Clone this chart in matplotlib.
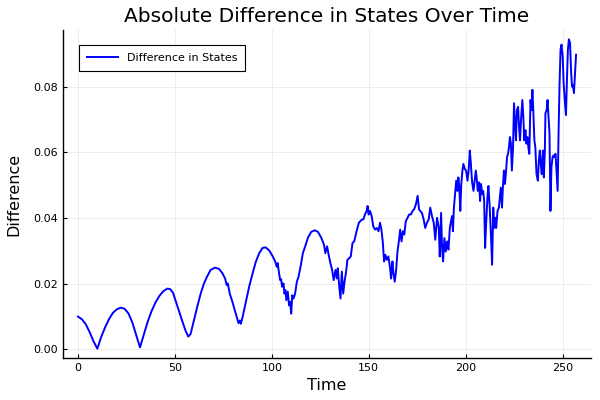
import matplotlib
matplotlib.use("Agg")
import matplotlib.pyplot as plt

# time points and |difference| values
time = [
    0, 2, 4, 6, 8, 10, 12, 14, 16, 18, 20, 22, 24, 26, 28, 30, 32, 34, 36, 38,
    40, 42, 44, 46, 47.5, 49, 50.3, 52, 53.7, 55.5, 56.9, 58.1, 59.8, 61.5,
    63.3, 65, 66.7, 68.4, 70.7, 72.8, 74.5, 75.9, 76.7, 77.3, 78.3, 79.7,
    80.9, 81.9, 82.8, 83.5, 84.0, 84.9, 86.6, 88.3, 90.1, 91.8, 93.5, 95.2,
    96.8, 98.7, 100.5, 101.7, 102.5, 103.0, 103.6, 104.3, 104.8, 105.3,
    106.0, 106.5, 107.0, 107.5, 108.2, 108.9, 109.4, 110.0, 110.5, 111.2,
    112.0, 112.9, 113.8, 114.8, 116.0, 117.2, 118.6, 120.3, 122.1, 123.8,
    125.5, 126.9, 127.6, 128.5, 129.3, 130.2, 131.1, 131.9, 132.8, 133.5,
    134.0, 134.7, 135.4, 136.1, 136.8, 137.5, 138.3, 139.0, 139.9, 140.7,
    141.6, 142.5, 143.7, 144.9, 146.3, 147.2, 148.0, 148.9, 149.4, 149.9,
    150.6, 151.5, 152.3, 153.2, 154.1, 155.0, 155.8, 156.5, 157.2, 157.9,
    158.6, 159.3, 160.1, 161.0, 161.5, 162.2, 162.7, 163.4, 164.1, 164.8,
    165.5, 166.2, 166.9, 167.6, 168.3, 169.1, 170.0, 170.8, 171.7, 172.6,
    173.4, 174.3, 175.2, 175.9, 176.5, 177.4, 178.3, 179.1, 180.0, 180.9,
    181.7, 182.6, 183.5, 184.3, 185.2, 186.1, 186.6, 187.3, 187.8, 188.3,
    189.0, 189.7, 190.4, 191.1, 191.8, 192.9, 193.4, 193.9, 194.6, 195.1,
    195.7, 196.2, 196.7, 197.2, 197.7, 198.3, 198.8, 199.5, 200.2, 200.9,
    201.5, 202.1, 202.6, 203.3, 204.0, 204.5, 205.2, 205.7, 206.2, 206.9,
    207.4, 207.9, 208.5, 209.0, 209.5, 210.0, 210.5, 211.2, 211.7, 212.3,
    213.0, 213.6, 214.2, 214.7, 215.2, 215.7, 216.4, 217.1, 217.6, 218.1,
    218.7, 219.2, 219.7, 220.2, 220.7, 221.3, 221.8, 222.3, 222.8, 223.3,
    223.8, 224.4, 224.9, 225.4, 225.9, 226.4, 227.0, 227.5, 228.0, 228.5,
    229.2, 229.7, 230.2, 230.8, 231.3, 231.8, 232.3, 232.8, 233.4, 233.9,
    234.4, 234.9, 235.4, 235.9, 236.5, 237.2, 237.7, 238.2, 238.7, 239.2,
    239.8, 240.3, 240.8, 241.1, 241.7, 242.2, 242.7, 243.2, 243.7, 244.2,
    244.8, 245.3, 245.8, 246.3, 246.8, 247.4, 247.9, 248.4, 248.9, 249.4,
    250.0, 250.5, 251.2, 251.7, 252.2, 252.7, 253.2, 253.8, 254.3, 254.8,
    255.3, 255.8, 256.4, 256.9,
]
diff = [
    0.0100, 0.0092, 0.0077, 0.0053, 0.0025, 0.0002, 0.0038, 0.0067, 0.0092,
    0.0111, 0.0122, 0.0127, 0.0124, 0.0110, 0.0083, 0.0045, 0.0006, 0.0045,
    0.0085, 0.0117, 0.0143, 0.0163, 0.0177, 0.0185, 0.0184, 0.0173, 0.0150,
    0.0119, 0.0088, 0.0057, 0.0039, 0.0047, 0.0088, 0.0129, 0.0170, 0.0201,
    0.0223, 0.0242, 0.0249, 0.0245, 0.0232, 0.0216, 0.0196, 0.0201, 0.0170,
    0.0144, 0.0119, 0.0098, 0.0080, 0.0088, 0.0078, 0.0098, 0.0144, 0.0191,
    0.0232, 0.0268, 0.0293, 0.0309, 0.0311, 0.0301, 0.0283, 0.0268, 0.0252,
    0.0263, 0.0237, 0.0211, 0.0214, 0.0191, 0.0201, 0.0170, 0.0181, 0.0150,
    0.0176, 0.0134, 0.0145, 0.0109, 0.0165, 0.0155, 0.0170, 0.0206, 0.0222,
    0.0252, 0.0293, 0.0314, 0.0340, 0.0358, 0.0363, 0.0358, 0.0340, 0.0319,
    0.0293, 0.0314, 0.0288, 0.0263, 0.0242, 0.0211, 0.0242, 0.0216, 0.0247,
    0.0196, 0.0155, 0.0237, 0.0170, 0.0206, 0.0237, 0.0273, 0.0278, 0.0283,
    0.0324, 0.0329, 0.0360, 0.0386, 0.0395, 0.0396, 0.0411, 0.0422, 0.0437,
    0.0411, 0.0422, 0.0406, 0.0375, 0.0365, 0.0370, 0.0360, 0.0386, 0.0365,
    0.0329, 0.0268, 0.0288, 0.0273, 0.0283, 0.0247, 0.0216, 0.0268, 0.0232,
    0.0206, 0.0242, 0.0298, 0.0329, 0.0365, 0.0329, 0.0360, 0.0350, 0.0391,
    0.0401, 0.0411, 0.0411, 0.0422, 0.0427, 0.0442, 0.0468, 0.0427, 0.0422,
    0.0416, 0.0396, 0.0370, 0.0386, 0.0396, 0.0432, 0.0406, 0.0386, 0.0334,
    0.0401, 0.0370, 0.0283, 0.0416, 0.0309, 0.0268, 0.0339, 0.0298, 0.0329,
    0.0304, 0.0370, 0.0406, 0.0360, 0.0432, 0.0478, 0.0514, 0.0483, 0.0524,
    0.0493, 0.0422, 0.0504, 0.0545, 0.0565, 0.0550, 0.0545, 0.0514, 0.0545,
    0.0606, 0.0570, 0.0509, 0.0483, 0.0509, 0.0545, 0.0519, 0.0483, 0.0509,
    0.0452, 0.0504, 0.0473, 0.0483, 0.0452, 0.0309, 0.0381, 0.0463, 0.0498,
    0.0442, 0.0350, 0.0258, 0.0432, 0.0370, 0.0401, 0.0370, 0.0422, 0.0432,
    0.0463, 0.0493, 0.0432, 0.0498, 0.0545, 0.0504, 0.0534, 0.0586, 0.0596,
    0.0616, 0.0647, 0.0627, 0.0545, 0.0616, 0.0750, 0.0688, 0.0637, 0.0729,
    0.0739, 0.0678, 0.0637, 0.0698, 0.0760, 0.0709, 0.0637, 0.0668, 0.0627,
    0.0647, 0.0616, 0.0596, 0.0760, 0.0729, 0.0791, 0.0719, 0.0637, 0.0616,
    0.0534, 0.0514, 0.0575, 0.0606, 0.0565, 0.0534, 0.0606, 0.0524, 0.0606,
    0.0719, 0.0729, 0.0760, 0.0709, 0.0658, 0.0422, 0.0555, 0.0586, 0.0591,
    0.0586, 0.0596, 0.0545, 0.0483, 0.0668, 0.0811, 0.0914, 0.0929, 0.0893,
    0.0811, 0.0750, 0.0714, 0.0822, 0.0914, 0.0945, 0.0934, 0.0852, 0.0801,
    0.0806, 0.0781, 0.0842, 0.0898,
]

x_ticks = [0, 50, 100, 150, 200, 250]
y_ticks = [0.00, 0.02, 0.04, 0.06, 0.08]

fig = plt.figure(figsize=(6, 4), dpi=100)
ax = fig.add_axes([0.105, 0.105, 0.88, 0.82])

ax.plot(time, diff, color="blue", linewidth=1.4, label="Difference in States")

# Plots.jl style 3% padding around the data
xr = max(time) - min(time)
yr = max(diff) - min(diff)
ax.set_xlim(min(time) - 0.03 * xr, max(time) + 0.03 * xr)
ax.set_ylim(min(diff) - 0.03 * yr, max(diff) + 0.03 * yr)

ax.set_xticks(x_ticks)
ax.set_yticks(y_ticks)
ax.set_yticklabels(["%.2f" % v for v in y_ticks])
ax.tick_params(direction="in", length=3, labelsize=8, colors="black")
ax.grid(True, color="#ececec", linewidth=0.7)
ax.set_axisbelow(True)

for side in ["top", "right"]:
    ax.spines[side].set_visible(False)
for side in ["left", "bottom"]:
    ax.spines[side].set_linewidth(1.0)

ax.set_xlabel("Time", fontsize=11.5, labelpad=4)
ax.set_ylabel("Difference", fontsize=11.5, labelpad=9)
ax.set_title("Absolute Difference in States Over Time", fontsize=14.5, pad=6)

leg = ax.legend(loc="upper left", fontsize=8, fancybox=False, framealpha=1,
                edgecolor="black", handlelength=2.8, borderpad=0.7,
                bbox_to_anchor=(0.02, 0.97))
leg.get_frame().set_linewidth(0.8)

fig.savefig("out.png", dpi=100)
